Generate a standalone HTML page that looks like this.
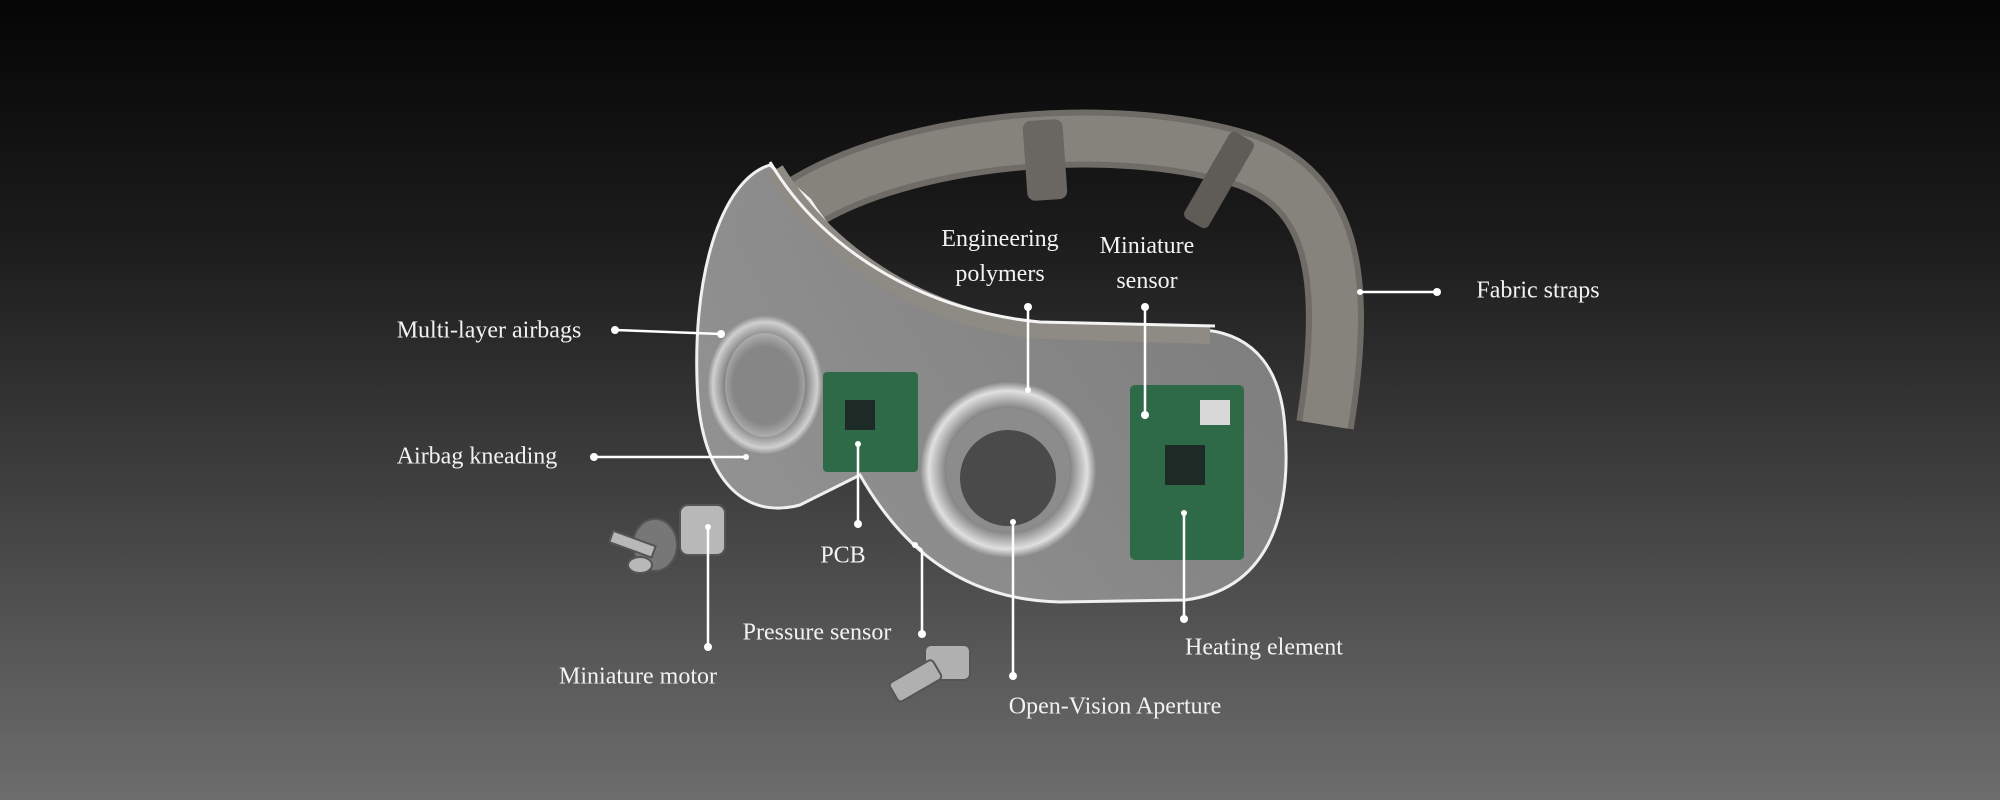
<!DOCTYPE html>
<html><head><meta charset="utf-8"><style>
html,body{margin:0;padding:0}
body{width:2000px;height:800px;overflow:hidden;background:linear-gradient(180deg,#050505 0%,#1c1c1c 30%,#3e3e3e 60%,#6d6d6d 100%);position:relative;font-family:"Liberation Serif",serif;color:#f2f2f2}
svg{position:absolute;left:0;top:0}
.l{position:absolute;font-size:24px;white-space:nowrap;transform:translate(-50%,-50%);text-align:center;line-height:35px}
</style></head><body>
<svg width="2000" height="800" viewBox="0 0 2000 800">
<defs>
<radialGradient id="lens" cx="50%" cy="50%" r="50%"><stop offset="55%" stop-color="#3a3a3a"/><stop offset="75%" stop-color="#9a9a9a"/><stop offset="90%" stop-color="#e0e0e0"/><stop offset="100%" stop-color="#8a8a8a"/></radialGradient>
<linearGradient id="body" x1="0" y1="0" x2="1" y2="1"><stop offset="0" stop-color="#e0e0e0" stop-opacity=".6"/><stop offset="1" stop-color="#b0b0b0" stop-opacity=".55"/></linearGradient>
</defs>
<!-- strap -->
<path d="M800,205 C900,140 1110,118 1245,160 C1330,190 1350,270 1325,425" fill="none" stroke="#6f6b66" stroke-width="58"/>
<path d="M800,205 C900,140 1110,118 1245,160 C1330,190 1350,270 1325,425" fill="none" stroke="#86827c" stroke-width="46"/>
<rect x="1025" y="120" width="40" height="80" rx="8" fill="#6a6661" transform="rotate(-4 1045 160)"/>
<rect x="1205" y="130" width="28" height="100" rx="6" fill="#5f5c58" transform="rotate(30 1219 180)"/>
<!-- body -->
<path d="M770,165 C720,180 690,280 698,400 C705,480 745,520 800,505 L860,475 C900,545 960,600 1060,602 L1185,600 C1265,590 1292,520 1285,430 C1282,370 1255,335 1205,330 L1040,328 C950,320 860,280 810,200 Z" fill="url(#body)" stroke="#f0f0f0" stroke-width="3"/>
<!-- cushion -->
<path d="M775,170 C830,260 930,320 1040,330 L1210,335" fill="none" stroke="#8e8a84" stroke-width="18"/>
<path d="M770,162 C825,255 930,312 1040,322 L1215,326" fill="none" stroke="#f4f4f4" stroke-width="3"/>
<!-- left lens -->
<ellipse cx="765" cy="385" rx="58" ry="70" fill="url(#lens)" opacity=".8"/>
<ellipse cx="765" cy="385" rx="40" ry="52" fill="#cfcfcf" opacity=".45"/>
<!-- pcb left -->
<rect x="823" y="372" width="95" height="100" rx="4" fill="#2f6a48"/>
<rect x="845" y="400" width="30" height="30" fill="#1e2a25"/>
<!-- center lens -->
<circle cx="1008" cy="470" r="88" fill="url(#lens)"/>
<circle cx="1008" cy="470" r="62" fill="#8c8c8c"/>
<circle cx="1008" cy="478" r="48" fill="#4a4a4a"/>
<!-- pcb right -->
<rect x="1130" y="385" width="114" height="175" rx="5" fill="#2f6a48"/>
<rect x="1165" y="445" width="40" height="40" fill="#1e2a25"/>
<rect x="1200" y="400" width="30" height="25" fill="#d8d8d8"/>
<!-- motor -->
<g fill="#b8b8b8" stroke="#555" stroke-width="2">
<rect x="680" y="505" width="45" height="50" rx="8"/>
<ellipse cx="655" cy="545" rx="22" ry="26" fill="#777"/>
<rect x="610" y="538" width="45" height="12" transform="rotate(20 632 544)"/>
<ellipse cx="640" cy="565" rx="12" ry="8"/>
</g>
<!-- screw -->
<g fill="#b0b0b0" stroke="#555" stroke-width="2">
<rect x="925" y="645" width="45" height="35" rx="6"/>
<rect x="890" y="670" width="50" height="22" rx="4" transform="rotate(-30 915 680)"/>
</g>
<!-- connectors -->
<g stroke="#fff" stroke-width="2.5" fill="none">
<line x1="615" y1="330" x2="721" y2="334"/>
<line x1="594" y1="457" x2="746" y2="457"/>
<line x1="1028" y1="307" x2="1028" y2="390"/>
<line x1="1145" y1="307" x2="1145" y2="415"/>
<line x1="1437" y1="292" x2="1360" y2="292"/>
<line x1="858" y1="524" x2="858" y2="444"/>
<line x1="922" y1="634" x2="922" y2="550"/><line x1="922" y1="550" x2="915" y2="545"/>
<line x1="708" y1="647" x2="708" y2="527"/>
<line x1="1013" y1="676" x2="1013" y2="522"/>
<line x1="1184" y1="619" x2="1184" y2="513"/>
</g>
<g fill="#fff">
<circle cx="615" cy="330" r="4"/><circle cx="721" cy="334" r="4"/>
<circle cx="594" cy="457" r="4"/><circle cx="746" cy="457" r="3"/>
<circle cx="1028" cy="307" r="4"/><circle cx="1028" cy="390" r="3"/>
<circle cx="1145" cy="307" r="4"/><circle cx="1145" cy="415" r="4"/>
<circle cx="1437" cy="292" r="4"/><circle cx="1360" cy="292" r="3"/>
<circle cx="858" cy="524" r="4"/><circle cx="858" cy="444" r="3"/>
<circle cx="922" cy="634" r="4"/><circle cx="915" cy="545" r="3"/>
<circle cx="708" cy="647" r="4"/><circle cx="708" cy="527" r="3"/>
<circle cx="1013" cy="676" r="4"/><circle cx="1013" cy="522" r="3"/>
<circle cx="1184" cy="619" r="4"/><circle cx="1184" cy="513" r="3"/>
</g>
</svg>
<div class="l" style="left:489px;top:331px">Multi-layer airbags</div>
<div class="l" style="left:477px;top:457px">Airbag kneading</div>
<div class="l" style="left:1000px;top:257px">Engineering<br>polymers</div>
<div class="l" style="left:1147px;top:264px">Miniature<br>sensor</div>
<div class="l" style="left:1538px;top:291px">Fabric straps</div>
<div class="l" style="left:843px;top:556px">PCB</div>
<div class="l" style="left:817px;top:633px">Pressure sensor</div>
<div class="l" style="left:638px;top:677px">Miniature motor</div>
<div class="l" style="left:1115px;top:707px">Open-Vision Aperture</div>
<div class="l" style="left:1264px;top:648px">Heating element</div>
</body></html>
